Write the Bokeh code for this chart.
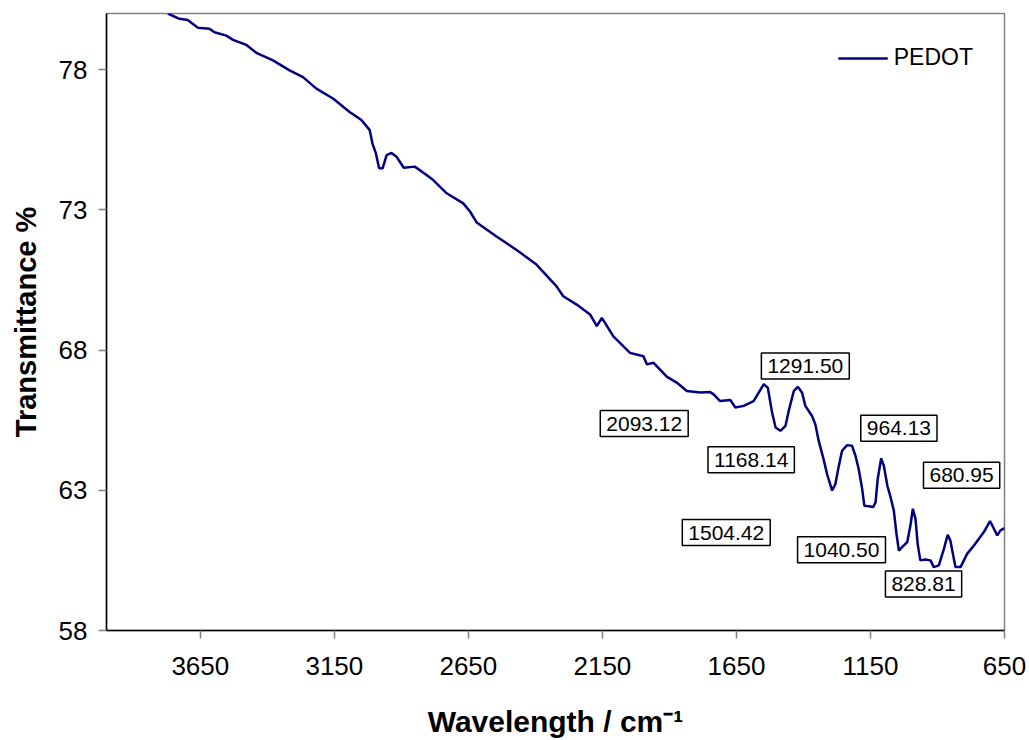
from bokeh.plotting import figure
from bokeh.models import Range1d, FixedTicker, Label
from bokeh.embed import file_html
from bokeh.resources import INLINE

# ---- data ----
wavenumber = [3771, 3728, 3697, 3659, 3616, 3597, 3553, 3528, 3478, 3441,
              3379, 3317, 3267, 3217, 3155, 3093, 3049, 3018, 3008, 2995,
              2983, 2970, 2955, 2937, 2918, 2891, 2850, 2806, 2781, 2731,
              2669, 2644, 2619, 2545, 2470, 2395, 2321, 2296, 2246, 2196,
              2171, 2152, 2109, 2047, 1997, 1984, 1960, 1910, 1873, 1835,
              1785, 1748, 1735, 1711, 1673, 1654, 1623, 1586, 1548, 1533,
              1517, 1504, 1486, 1467, 1455, 1436, 1421, 1405, 1393, 1368,
              1356, 1343, 1325, 1312, 1293, 1281, 1268, 1256, 1237, 1219,
              1206, 1194, 1181, 1173, 1156, 1140, 1131, 1123, 1110, 1100,
              1087, 1075, 1063, 1053, 1044, 1032, 1013, 1001, 992, 982,
              974, 964, 945, 926, 914, 895, 876, 862, 852, 839,
              833, 814, 789, 764, 727, 704, 689, 677, 665, 650]
transmittance = [80.00, 79.81, 79.77, 79.49, 79.46, 79.33, 79.21, 79.06, 78.88, 78.60,
                 78.33, 77.97, 77.73, 77.32, 76.97, 76.49, 76.20, 75.84, 75.37, 75.01,
                 74.48, 74.48, 74.95, 75.03, 74.89, 74.50, 74.54, 74.24, 74.06, 73.59,
                 73.23, 72.94, 72.55, 72.05, 71.57, 71.04, 70.27, 69.92, 69.62, 69.27,
                 68.85, 69.15, 68.49, 67.90, 67.78, 67.49, 67.55, 67.05, 66.84, 66.54,
                 66.49, 66.50, 66.42, 66.18, 66.22, 65.95, 66.01, 66.18, 66.78, 66.66,
                 65.77, 65.24, 65.12, 65.30, 65.83, 66.54, 66.69, 66.48, 66.01, 65.65,
                 65.36, 64.76, 64.11, 63.58, 62.99, 63.22, 63.87, 64.41, 64.61, 64.59,
                 64.23, 63.76, 63.05, 62.45, 62.43, 62.40, 62.57, 63.40, 64.14, 63.87,
                 63.16, 62.75, 62.28, 61.45, 60.85, 60.97, 61.15, 61.74, 62.34, 61.98,
                 61.09, 60.50, 60.53, 60.50, 60.26, 60.32, 60.91, 61.41, 61.21, 60.56,
                 60.26, 60.26, 60.74, 61.03, 61.51, 61.90, 61.62, 61.39, 61.57, 61.65]

peak_labels = ["1291.50", "2093.12", "1168.14", "964.13",
               "680.95", "1504.42", "1040.50", "828.81"]
peak_label_x = [1393, 1994, 1595, 1044, 810, 1688, 1258, 952]
peak_label_y = [67.43, 65.38, 64.09, 65.21, 63.54, 61.49, 60.88, 59.66]

x_ticks = [3650, 3150, 2650, 2150, 1650, 1150, 650]
y_ticks = [58, 63, 68, 73, 78]
series_name = "PEDOT"

FONT = "Liberation Sans"

p = figure(width=1029, height=740,
           x_range=Range1d(4000, 650), y_range=Range1d(58, 80),
           output_backend="svg", toolbar_location=None,
           min_border_left=106, min_border_right=25,
           min_border_top=13, min_border_bottom=108,
           background_fill_color="white", border_fill_color="white")

p.line(wavenumber, transmittance, line_color="#000080", line_width=2.5,
       legend_label=series_name)

p.xgrid.visible = False
p.ygrid.visible = False
p.outline_line_color = "#808080"
p.outline_line_width = 1.5

p.xaxis.ticker = FixedTicker(ticks=x_ticks)
p.yaxis.ticker = FixedTicker(ticks=y_ticks)

for ax in (p.xaxis[0], p.yaxis[0]):
    ax.axis_line_color = "black"
    ax.axis_line_width = 1.5
    ax.major_tick_line_color = "#808080"
    ax.major_tick_line_width = 1.5
    ax.major_tick_in = 0
    ax.major_tick_out = 8
    ax.minor_tick_in = 0
    ax.minor_tick_out = 0
    ax.major_label_text_font = FONT
    ax.major_label_text_font_size = "26px"
    ax.major_label_text_color = "black"
    ax.axis_label_text_font = FONT
    ax.axis_label_text_font_style = "bold"
    ax.axis_label_text_color = "black"

p.xaxis.axis_label = "Wavelength / cm\u207b\u00b9"
p.xaxis.axis_label_text_font_size = "30px"
p.xaxis.major_label_standoff = 18
p.xaxis.axis_label_standoff = 27

p.yaxis.axis_label = "Transmittance %"
p.yaxis.axis_label_text_font_size = "29px"
p.yaxis.major_label_standoff = 11
p.yaxis.axis_label_standoff = 14

for t, lx, ly in zip(peak_labels, peak_label_x, peak_label_y):
    p.add_layout(Label(x=lx, y=ly, text=t, text_align="center",
                       text_baseline="middle", text_font=FONT,
                       text_font_size="21px", text_color="black",
                       border_line_color="black", border_line_width=1.5,
                       background_fill_color="white", padding=6))

lg = p.legend[0]
lg.location = "top_right"
lg.margin = 31
lg.padding = 0
lg.spacing = 0
lg.border_line_alpha = 0
lg.background_fill_alpha = 0
lg.glyph_width = 50
lg.glyph_height = 20
lg.label_standoff = 6
lg.label_height = 20
lg.label_text_font = FONT
lg.label_text_font_size = "23px"
lg.label_text_color = "black"

open("out.html", "w").write(file_html(p, INLINE))
